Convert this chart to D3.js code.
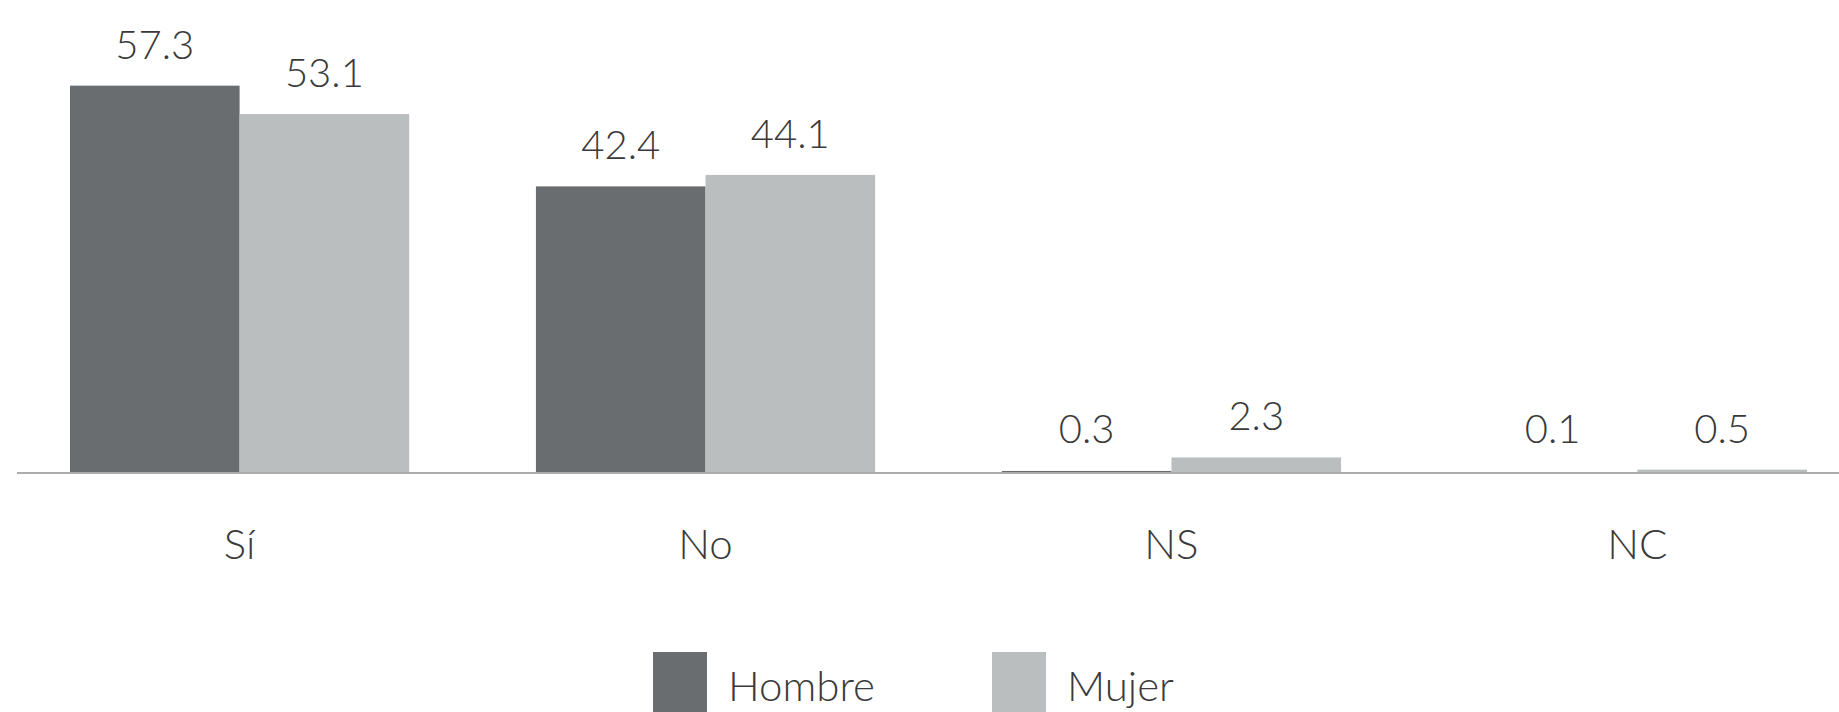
<!DOCTYPE html>
<html>
<head>
<meta charset="utf-8">
<script src="https://cdn.jsdelivr.net/npm/d3@7"></script>
<style>
  html, body { margin: 0; padding: 0; background: #fff; }
  svg { display: block; }
  text { font-family: Lato, "Open Sans", sans-serif; font-weight: 300; fill: #3a3a3a; }
</style>
</head>
<body>
<svg id="chart" width="1839" height="712"></svg>
<script>
const categories = ["Sí", "No", "NS", "NC"];
const seriesNames = ["Hombre", "Mujer"];
const hombre = [57.3, 42.4, 0.3, 0.1];
const mujer = [53.1, 44.1, 2.3, 0.5];
const valueLabels = {
  Hombre: ["57.3", "42.4", "0.3", "0.1"],
  Mujer: ["53.1", "44.1", "2.3", "0.5"]
};
const colors = ["#6a6d6f", "#bbbebf"];

const svg = d3.select("#chart");
const baseY = 473;

const x = d3.scaleBand().domain(categories).range([70, 1807]).paddingInner(0.272).paddingOuter(0);
const xs = d3.scaleBand().domain(seriesNames).range([0, x.bandwidth()]).padding(0);
const y = d3.scaleLinear().domain([0, 60]).range([baseY, baseY - 405.6]);
const color = d3.scaleOrdinal().domain(seriesNames).range(colors);

const data = categories.map((c, i) => ({
  cat: c,
  values: [
    { s: "Hombre", v: hombre[i], label: valueLabels.Hombre[i] },
    { s: "Mujer", v: mujer[i], label: valueLabels.Mujer[i] }
  ]
}));

const groups = svg.selectAll("g.grp").data(data).enter().append("g")
  .attr("class", "grp")
  .attr("transform", d => `translate(${x(d.cat)},0)`);

groups.selectAll("rect").data(d => d.values).enter().append("rect")
  .attr("x", d => xs(d.s))
  .attr("y", d => y(d.v))
  .attr("width", xs.bandwidth())
  .attr("height", d => Math.max(0, y(0) - y(d.v)))
  .attr("fill", d => color(d.s));

groups.selectAll("text.val").data(d => d.values).enter().append("text")
  .attr("class", "val")
  .attr("x", d => xs(d.s) + xs.bandwidth() / 2)
  .attr("y", d => Math.min(y(d.v), baseY - 3) - 27)
  .attr("text-anchor", "middle")
  .attr("font-size", 40)
  .text(d => d.label);

// baseline
svg.append("line")
  .attr("x1", 17).attr("x2", 1839)
  .attr("y1", baseY).attr("y2", baseY)
  .attr("stroke", "#a9abac").attr("stroke-width", 2);

// category axis labels
const xAxis = d3.axisBottom(x).tickSize(0).tickPadding(0);
const ax = svg.append("g").attr("transform", `translate(0,${baseY})`).call(xAxis);
ax.select(".domain").remove();
ax.selectAll("text")
  .attr("font-size", 42)
  .attr("dy", 0)
  .attr("y", 86)
  .style("font-family", "Lato, 'Open Sans', sans-serif")
  .style("font-weight", 300)
  .attr("fill", "#3a3a3a");

// legend
const legendX = [653, 992];
const leg = svg.selectAll("g.leg").data(seriesNames).enter().append("g")
  .attr("class", "leg")
  .attr("transform", (d, i) => `translate(${legendX[i]},652)`);
leg.append("rect").attr("width", 54).attr("height", 60).attr("fill", d => color(d));
leg.append("text").attr("x", 75).attr("y", 49).attr("font-size", 42).text(d => d);
</script>
</body>
</html>
